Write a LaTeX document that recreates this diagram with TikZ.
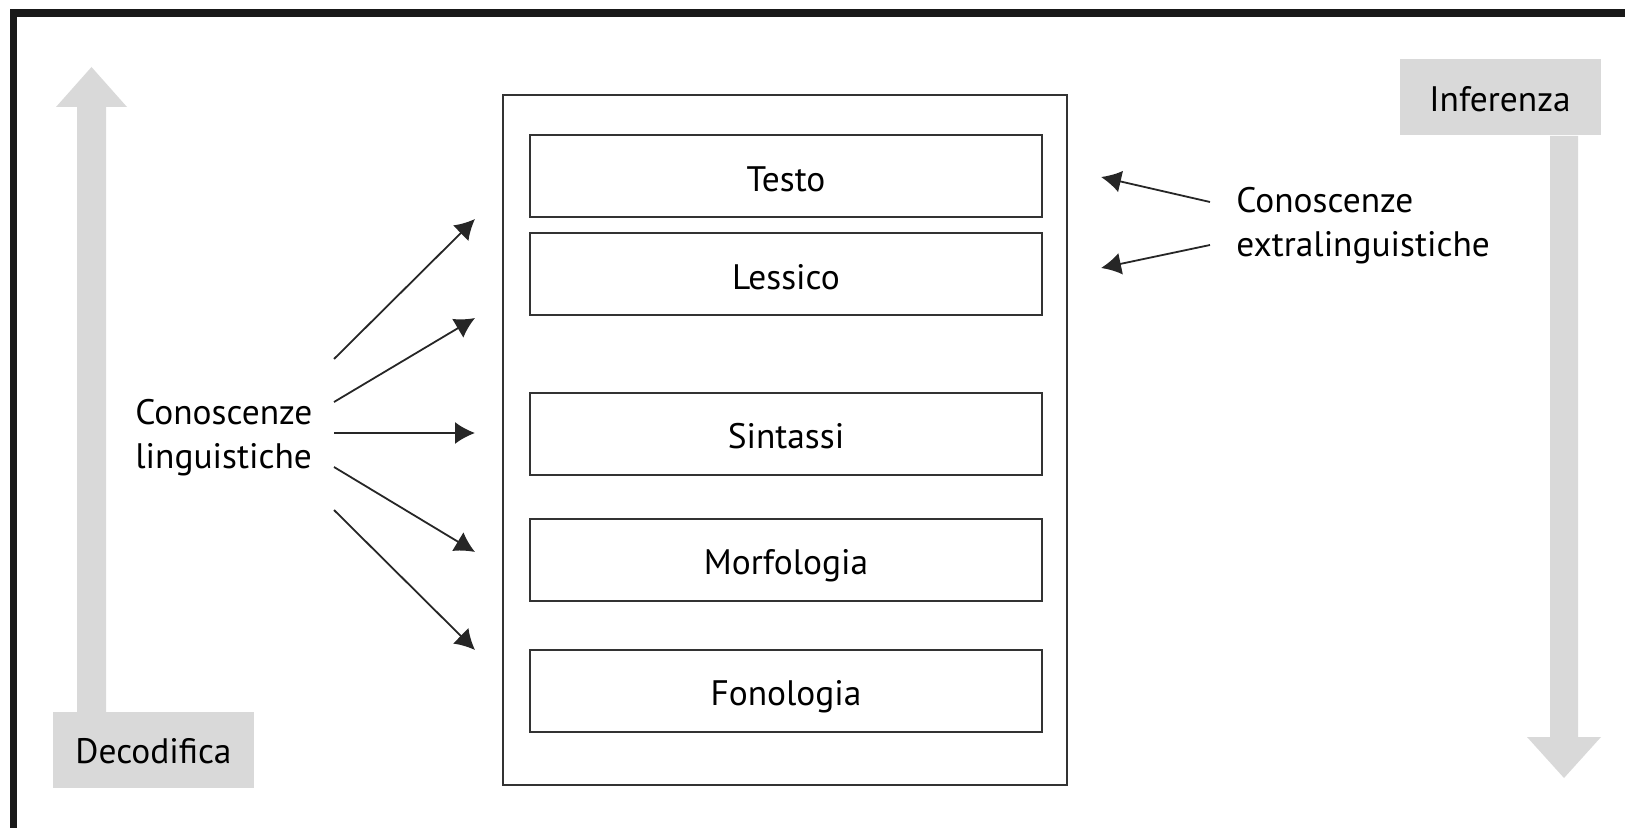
\documentclass[tikz,border=0pt]{standalone}
\usepackage{fontspec}
\setmainfont{PT Sans}
\usepackage{tikz}
\usetikzlibrary{arrows.meta}
\usetikzlibrary{positioning}
\definecolor{bandgray}{HTML}{D9D9D9}
\definecolor{boxline}{HTML}{333333}
\tikzset{layer/.style={draw=boxline,line width=1pt,minimum width=256pt,minimum height=41pt,inner sep=0pt,text height=15.4pt,text depth=0pt}}
\tikzset{tag/.style={fill=bandgray,minimum width=100.5pt,minimum height=38pt,inner sep=0pt,text height=13.6pt,text depth=0pt}}
\tikzset{knows/.style={-{Latex[length=10pt,width=11pt]},line width=0.9pt,black!85}}

\begin{document}
\begin{tikzpicture}[x=0.5pt,y=-0.5pt,font=\fontsize{17.7}{22}\selectfont]
\useasboundingbox (0,0) rectangle (1625,828);
\draw[line width=3.75pt,black!90] (13.5,828) -- (13.5,13) -- (1625,13);

% gray direction arrows
\fill[bandgray] (77,712) -- (77,107) -- (56,107) -- (91.5,67) -- (127,107) -- (106,107) -- (106,712) -- cycle;
\fill[bandgray] (1550,136) -- (1550,737) -- (1527,737) -- (1564,778) -- (1601,737) -- (1578,737) -- (1578,136) -- cycle;
\node[tag] (dec) at (153.5,750) {Decodifica};
\node[tag] (inf) at (1500,97.5) {Inferenza};

% levels
\node[draw=boxline,line width=1pt,minimum width=282pt,minimum height=345pt] (stack) at (785,440) {};
\foreach \name/\lbl/\y in {testo/Testo/176.5,lessico/Lessico/274,sintassi/Sintassi/433.5,morfo/Morfologia/559.5,fono/Fonologia/690.5} {
	\node[layer] (\name) at (786,\y) {\lbl};
}

\node[align=left,inner sep=0pt,anchor=west] (ling) at (135,438) {Conoscenze\\linguistiche};
\node[align=left,inner sep=0pt,anchor=west] (extra) at (1236,226) {Conoscenze\\extralinguistiche};

\foreach \i/\sy/\ey in {1/359/219,2/402/318,3/433/433,4/467/552,5/510/650} {
	\coordinate (ls\i) at (334,\sy);
	\coordinate (le\i) at (475,\ey);
	\draw[knows] (ls\i) -- (le\i);
}
\foreach \i/\sy/\ey in {1/202/177,2/245/268} {
	\coordinate (xs\i) at (1210,\sy);
	\coordinate (xe\i) at (1101,\ey);
	\draw[knows] (xs\i) -- (xe\i);
}

\end{tikzpicture}
\end{document}
